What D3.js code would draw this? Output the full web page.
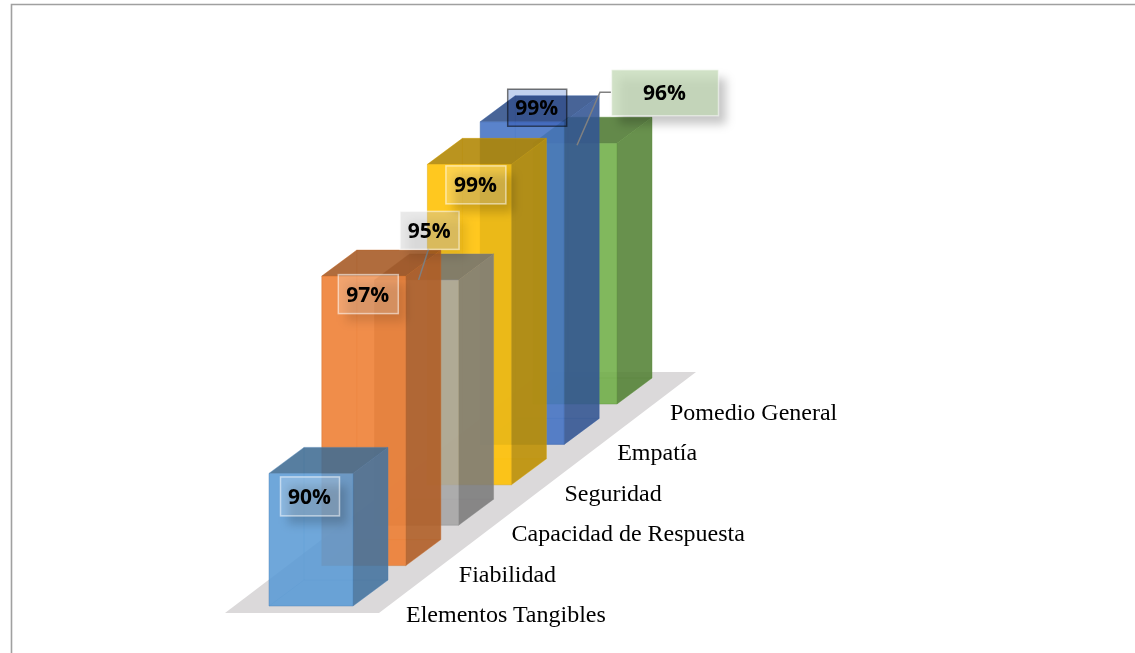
<!DOCTYPE html>
<html lang="es">
<head>
<meta charset="utf-8">
<title>Promedio por dimensión</title>
<script src="https://cdn.jsdelivr.net/npm/d3@7"></script>
<style>
  body { margin: 0; background: #fff; }
  svg { display: block; }
  .category { font-family: "Liberation Serif", serif; font-size: 24px; fill: #000; }
  .value { font-family: "Open Sans", sans-serif; font-size: 21px; font-weight: 700; fill: #000; text-anchor: middle; }
</style>
</head>
<body>
<svg id="chart" width="1135" height="653"></svg>
<script>
const categories = ['Elementos Tangibles', 'Fiabilidad', 'Capacidad de Respuesta', 'Seguridad', 'Empatía', 'Pomedio General'];
const values = [90, 97.1, 95.1, 98.5, 98.6, 95.8];
const colors = ['#5B9BD5', '#ED7D31', '#A5A5A5', '#FFC000', '#4472C4', '#70AD47'];

const svg = d3.select('#chart');

// Frame of the pasted chart, only top and left edges are inside the crop
svg.append('path')
  .attr('d', 'M11.5,653V4.5H1135')
  .attr('fill', 'none')
  .attr('stroke', '#a0a0a0')
  .attr('stroke-width', 1.6);

const defs = svg.append('defs');
defs.append('filter')
  .attr('id', 'blur')
  .attr('x', '-40%').attr('y', '-60%').attr('width', '180%').attr('height', '220%')
  .append('feGaussianBlur').attr('stdDeviation', 5);

// Oblique projection: the category runs back along the floor, the value goes straight up
const index = categories.map((d, i) => i);
const xCat = d3.scaleLinear().domain([0, 5]).range([269, 533]);
const yCat = d3.scaleLinear().domain([0, 5]).range([606, 404]);
const yValue = d3.scaleLinear().domain([84, 100]).range([0, 353.6]);
const barWidth = 84;
const depthX = 35;
const depthY = 26;

const polygon = d3.line();

// Floor under the bars
const floor = [
  [xCat(0) - 44, yCat(0) + 7],
  [xCat(0) + barWidth + 26, yCat(0) + 7],
  [xCat(5) + barWidth + depthX + 44, yCat(5) - depthY - 6],
  [xCat(5) + barWidth + depthX + 44 - 154, yCat(5) - depthY - 6]
];
svg.append('path')
  .attr('d', polygon(floor) + 'Z')
  .attr('fill', '#dbd9da');

// One bar is six see-through faces, drawn from the far one to the near one
function faces(i) {
  const x0 = xCat(i), x1 = x0 + barWidth;
  const y0 = yCat(i), y1 = y0 - yValue(values[i]);
  const c = d3.color(colors[i]);
  const side = c.darker(0.85);
  const top = c.darker(1.05);
  const edge = c.darker(0.5);
  const dx = depthX, dy = depthY;
  return [
    { pts: [[x0 + dx, y0 - dy], [x1 + dx, y0 - dy], [x1 + dx, y1 - dy], [x0 + dx, y1 - dy]], fill: c, op: 0.15, edge, edgeOp: 0.15 },
    { pts: [[x0, y0], [x0 + dx, y0 - dy], [x0 + dx, y1 - dy], [x0, y1]], fill: c, op: 0.15, edge, edgeOp: 0.15 },
    { pts: [[x0, y0], [x1, y0], [x1 + dx, y0 - dy], [x0 + dx, y0 - dy]], fill: c, op: 0.2, edge, edgeOp: 0.15 },
    { pts: [[x1, y0], [x1 + dx, y0 - dy], [x1 + dx, y1 - dy], [x1, y1]], fill: side, op: 0.86, edge, edgeOp: 0.3 },
    { pts: [[x0, y1], [x1, y1], [x1 + dx, y1 - dy], [x0 + dx, y1 - dy]], fill: top, op: 0.86, edge, edgeOp: 0.3 },
    { pts: [[x0, y0], [x1, y0], [x1, y1], [x0, y1]], fill: c, op: 0.86, edge, edgeOp: 0.3 }
  ];
}

const bars = svg.selectAll('.bar')
  .data(index.slice().reverse())
  .join('g')
  .attr('class', 'bar');

bars.selectAll('path')
  .data(i => faces(i))
  .join('path')
  .attr('d', d => polygon(d.pts) + 'Z')
  .attr('fill', d => d.fill)
  .attr('fill-opacity', d => d.op)
  .attr('stroke', d => d.edge)
  .attr('stroke-opacity', d => d.edgeOp)
  .attr('stroke-width', 1);

// Category names sit on the floor's right edge
svg.selectAll('.category')
  .data(index)
  .join('text')
  .attr('class', 'category')
  .attr('x', i => xCat(i) + 137)
  .attr('y', i => yCat(i) + 16)
  .text(i => categories[i]);

// Data labels, moved by hand in the original, offsets from each bar's front top corner
const labelBoxes = [
  { dx: 11, dy: 3, w: 59, h: 39, fill: '#fff', fillOp: 0.2, stroke: '#fff', strokeOp: 0.55, shadow: 0.18 },
  { dx: 16, dy: -2, w: 60, h: 39, fill: '#fff', fillOp: 0.2, stroke: '#fff', strokeOp: 0.55, shadow: 0.12 },
  { dx: 25, dy: -69, w: 59, h: 38, fill: '#c4c4c4', fillOp: 0.38, stroke: '#fff', strokeOp: 0.55, shadow: 0.1 },
  { dx: 18, dy: 1, w: 60, h: 38, fill: '#fff', fillOp: 0.2, stroke: '#fff', strokeOp: 0.55, shadow: 0.18 },
  { dx: 27, dy: -33, w: 59, h: 37, fill: '#c3d2ef', fillOp: 1, stroke: '#3c3c3c', strokeOp: 0.7, shadow: 0, blend: 'multiply' },
  { dx: 78, dy: -74, w: 107, h: 46, fill: '#c2d8b4', fillOp: 0.75, stroke: '#fff', strokeOp: 0.5, shadow: 0.22 }
];

const topY = i => yCat(i) - yValue(values[i]);

// Leader lines for the two labels pulled away from their bars
const leaders = [
  { i: 2, pts: [[44, 0], [54, -31]] },
  { i: 5, pts: [[44, 2], [67, -51], [78, -51]] }
];
svg.selectAll('.leader')
  .data(leaders)
  .join('path')
  .attr('class', 'leader')
  .attr('d', d => polygon(d.pts.map(p => [xCat(d.i) + p[0], topY(d.i) + p[1]])))
  .attr('fill', 'none')
  .attr('stroke', '#808080')
  .attr('stroke-width', 1.5);

const labels = svg.selectAll('.label')
  .data(index)
  .join('g')
  .attr('class', 'label')
  .attr('transform', i => `translate(${xCat(i) + labelBoxes[i].dx},${topY(i) + labelBoxes[i].dy})`);

labels.append('rect')
  .attr('x', 8).attr('y', 9)
  .attr('width', i => labelBoxes[i].w)
  .attr('height', i => labelBoxes[i].h)
  .attr('fill', '#000')
  .attr('fill-opacity', i => labelBoxes[i].shadow)
  .attr('filter', 'url(#blur)');

labels.append('rect')
  .attr('x', 0.5).attr('y', 0.5)
  .attr('width', i => labelBoxes[i].w)
  .attr('height', i => labelBoxes[i].h)
  .attr('fill', i => labelBoxes[i].fill)
  .attr('fill-opacity', i => labelBoxes[i].fillOp)
  .attr('stroke', i => labelBoxes[i].stroke)
  .attr('stroke-opacity', i => labelBoxes[i].strokeOp)
  .attr('stroke-width', 1.5)
  .style('mix-blend-mode', i => labelBoxes[i].blend || 'normal');

labels.append('text')
  .attr('class', 'value')
  .attr('x', i => labelBoxes[i].w / 2)
  .attr('y', i => labelBoxes[i].h / 2 + 8)
  .text(i => Math.round(values[i]) + '%');
</script>
</body>
</html>
